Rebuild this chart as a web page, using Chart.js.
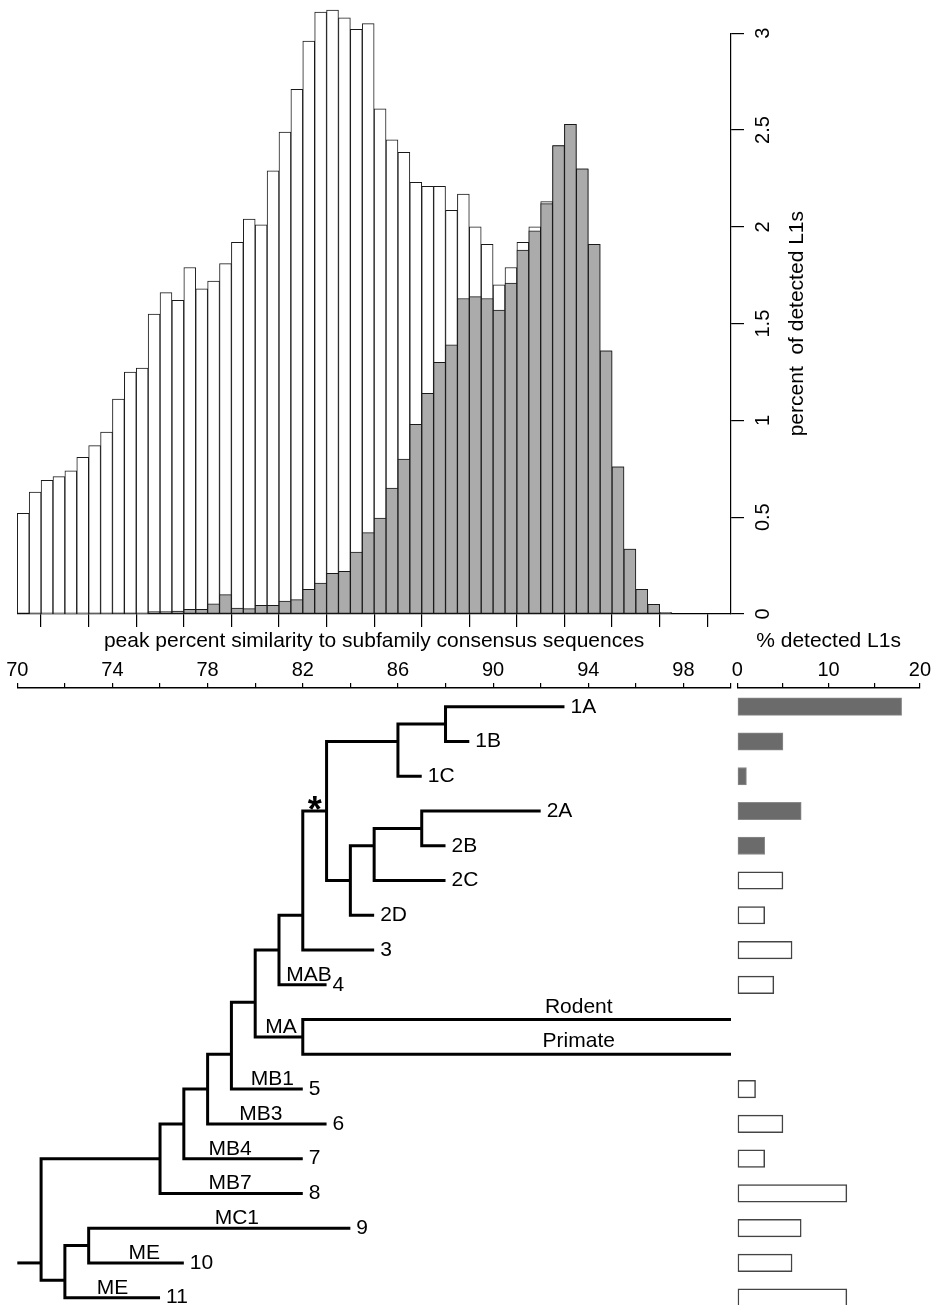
<!DOCTYPE html>
<html>
<head>
<meta charset="utf-8">
<script src="https://cdn.jsdelivr.net/npm/chart.js@4.4.1/dist/chart.umd.min.js"></script>
<style>
  html, body { margin: 0; padding: 0; background: #fff; width: 932px; height: 1305px; overflow: hidden; }
  canvas { position: absolute; }
  #histo { left: 0; top: 0; }
  #tree { left: 0; top: 620px; }
  #bars { left: 725px; top: 620px; }
</style>
</head>
<body>
<canvas id="histo" width="932" height="640"></canvas>
<canvas id="tree" width="735" height="685"></canvas>
<canvas id="bars" width="207" height="685"></canvas>
<script>
// histogram: 0.5% bins of peak similarity, percent of detected L1s
const binCenters = [
  70.25, 70.75, 71.25, 71.75, 72.25, 72.75, 73.25, 73.75, 74.25, 74.75,
  75.25, 75.75, 76.25, 76.75, 77.25, 77.75, 78.25, 78.75, 79.25, 79.75,
  80.25, 80.75, 81.25, 81.75, 82.25, 82.75, 83.25, 83.75, 84.25, 84.75,
  85.25, 85.75, 86.25, 86.75, 87.25, 87.75, 88.25, 88.75, 89.25, 89.75,
  90.25, 90.75, 91.25, 91.75, 92.25, 92.75, 93.25, 93.75, 94.25, 94.75,
  95.25, 95.75, 96.25, 96.75, 97.25, 97.75, 98.25, 98.75, 99.25, 99.75
];
const allPct = [
  0.52, 0.63, 0.69, 0.71, 0.74, 0.81, 0.87, 0.94, 1.11, 1.25,
  1.27, 1.55, 1.66, 1.62, 1.79, 1.68, 1.72, 1.81, 1.92, 2.04,
  2.01, 2.29, 2.49, 2.71, 2.96, 3.11, 3.12, 3.08, 3.02, 3.05,
  2.61, 2.45, 2.385, 2.23, 2.21, 2.21, 2.085, 2.17, 2.0, 1.91,
  1.70, 1.79, 1.92, 2.0, 2.13, 2.42, 2.53, 2.30, 1.91, 1.36,
  0.76, 0.336, 0.128, 0.05, 0.007, 0, 0, 0, 0, 0
];
const activePct = [
  0, 0.003, 0.001, 0.001, 0.001, 0.001, 0.002, 0.002, 0.005, 0.005,
  0.003, 0.012, 0.012, 0.015, 0.024, 0.024, 0.052, 0.10, 0.031, 0.028,
  0.045, 0.045, 0.067, 0.074, 0.128, 0.16, 0.21, 0.22, 0.32, 0.42,
  0.495, 0.65, 0.80, 0.98, 1.14, 1.30, 1.39, 1.63, 1.64, 1.63,
  1.57, 1.71, 1.88, 1.98, 2.12, 2.42, 2.53, 2.30, 1.91, 1.36,
  0.76, 0.336, 0.128, 0.05, 0.007, 0, 0, 0, 0, 0
];

// tree tips, one per row, top to bottom
const tipLabels = ['1A','1B','1C','2A','2B','2C','2D','3','4','Rodent','Primate','5','6','7','8','9','10','11'];
const tipEnd    = [93, 89, 87, 92, 88, 88, 85, 85, 83, 100, 100, 82, 83, 82, 82, 84, 77, 76];
const detectedPct = [18, 5, 1, 7, 3, 5, 3, 6, 4, null, null, 2, 5, 3, 12, 7, 6, 12];
const activeTips = ['1A','1B','1C','2A','2B'];

// internal nodes
const nodeName = ['n88','n86','n87','n85','n84','n83','n82','n81','nMA','n80','n79','n78','n77','n76','n73','n72','root'];
const nodeX    = [88, 86, 87, 85, 84, 83, 82, 81, 82, 80, 79, 78, 77, 76, 73, 72, 71];
const nodeRow  = [0.5, 1, 3.5, 4, 5, 3, 6, 7, 9.5, 8.5, 10, 11, 12, 13, 15.5, 16.5, 16];
const nodeKids = [
  ['1A','1B'], ['n88','1C'], ['2A','2B'], ['n87','2C'], ['n85','2D'], ['n86','n84'],
  ['n83','3'], ['n82','4'], ['Rodent','Primate'], ['n81','nMA'], ['n80','5'], ['n79','6'],
  ['n78','7'], ['n77','8'], ['9','10'], ['n73','11'], ['n76','n72']
];
const rootStart = 70;

// subfamily names written over branches
const cladeNames = ['MAB','MA','MB1','MB3','MB4','MB7','MC1','ME','ME'];
const cladeX     = [82.26, 81.08, 80.72, 80.24, 78.94, 78.94, 79.23, 75.34, 74.0];
const cladeRow   = [8, 9.5, 11, 12, 13, 14, 15, 16, 17];
const longTipLabelX = 93.6;
const starX = 82.5, starRow = 3;

const FONT = '"Liberation Sans", Arial, Helvetica, sans-serif';
Chart.defaults.font.family = FONT;
Chart.defaults.color = '#000';

const rowMin = -0.538, rowMax = 17.21;

const histoLabels = {
  id: 'histoLabels',
  afterDraw(chart) {
    const ctx = chart.ctx;
    const y = chart.scales.y;
    ctx.save();
    ctx.fillStyle = '#000';
    ctx.textAlign = 'center';
    ctx.textBaseline = 'alphabetic';
    ctx.font = '20px ' + FONT;
    y.ticks.forEach((t, i) => {
      ctx.save();
      ctx.translate(y.left + 37.5, y.getPixelForTick(i));
      ctx.rotate(-Math.PI / 2);
      ctx.fillText(String(t.value), 0, 0);
      ctx.restore();
    });
    ctx.font = '21px ' + FONT;
    ctx.translate(y.left + 72, (y.top + y.bottom) / 2);
    ctx.rotate(-Math.PI / 2);
    ctx.fillText('percent  of detected L1s', 0, 0);
    ctx.restore();
  }
};

new Chart(document.getElementById('histo'), {
  type: 'bar',
  data: {
    datasets: [
      {
        label: 'active',
        data: binCenters.map((c, i) => ({ x: c, y: activePct[i] })),
        backgroundColor: '#ababab',
        borderColor: '#1a1a1a',
        borderWidth: 1,
        borderSkipped: false,
        order: 0,
        clip: false
      },
      {
        label: 'all',
        data: binCenters.map((c, i) => ({ x: c, y: allPct[i] })),
        backgroundColor: '#ffffff',
        borderColor: '#1a1a1a',
        borderWidth: 1,
        borderSkipped: false,
        order: 1,
        clip: false
      }
    ]
  },
  options: {
    responsive: false,
    animation: false,
    layout: { padding: { left: 17.3, top: 33.3, right: 0, bottom: 0 } },
    plugins: { legend: { display: false }, tooltip: { enabled: false } },
    datasets: { bar: { barPercentage: 1, categoryPercentage: 1, grouped: false } },
    scales: {
      x: {
        type: 'linear', min: 70, max: 100, offset: false,
        ticks: { display: false, stepSize: 2 },
        grid: { drawOnChartArea: false, drawTicks: true, tickLength: 13, color: '#000', lineWidth: 1.2 },
        border: { display: true, color: '#000', width: 1.2 },
        afterFit(s) { s.height = 26; }
      },
      y: {
        type: 'linear', position: 'right', min: 0, max: 3,
        ticks: { display: false, stepSize: 0.5 },
        grid: { drawOnChartArea: false, drawTicks: true, tickLength: 13, color: '#000', lineWidth: 1.2 },
        border: { display: true, color: '#000', width: 1.2 },
        afterFit(s) { s.width = 201; }
      }
    }
  },
  plugins: [histoLabels]
});

// tree geometry from the node lists
function pointOf(name) {
  const t = tipLabels.indexOf(name);
  if (t >= 0) return { x: tipEnd[t], y: t };
  const n = nodeName.indexOf(name);
  return { x: nodeX[n], y: nodeRow[n] };
}
const treePaths = nodeName.map((name, i) => {
  const a = pointOf(nodeKids[i][0]);
  const b = pointOf(nodeKids[i][1]);
  return [a, { x: nodeX[i], y: a.y }, { x: nodeX[i], y: b.y }, b];
});
const rootIdx = nodeName.indexOf('root');
treePaths.push([{ x: rootStart, y: nodeRow[rootIdx] }, { x: nodeX[rootIdx], y: nodeRow[rootIdx] }]);

const treeLabels = {
  id: 'treeLabels',
  afterDatasetsDraw(chart) {
    const ctx = chart.ctx;
    const { x, y } = chart.scales;
    ctx.save();
    ctx.fillStyle = '#000';
    ctx.font = '21px ' + FONT;
    tipLabels.forEach((lab, i) => {
      const py = y.getPixelForValue(i);
      if (tipEnd[i] >= 100) {
        ctx.textAlign = 'center';
        ctx.textBaseline = 'alphabetic';
        ctx.fillText(lab, x.getPixelForValue(longTipLabelX), py - 7);
      } else {
        ctx.textAlign = 'left';
        ctx.textBaseline = 'middle';
        ctx.fillText(lab, x.getPixelForValue(tipEnd[i]) + 6, py);
      }
    });
    ctx.textAlign = 'center';
    ctx.textBaseline = 'alphabetic';
    cladeNames.forEach((lab, i) => {
      ctx.fillText(lab, x.getPixelForValue(cladeX[i]), y.getPixelForValue(cladeRow[i]) - 4);
    });
    ctx.font = 'bold 36px ' + FONT;
    ctx.fillText('*', x.getPixelForValue(starX), y.getPixelForValue(starRow) + 11);
    ctx.restore();
  }
};

new Chart(document.getElementById('tree'), {
  type: 'scatter',
  data: {
    datasets: treePaths.map(p => ({
      data: p,
      showLine: true,
      borderColor: '#000',
      borderWidth: 3,
      pointRadius: 0,
      borderJoinStyle: 'miter',
      borderCapStyle: 'butt',
      tension: 0,
      clip: false
    }))
  },
  options: {
    responsive: false,
    animation: false,
    layout: { padding: { left: 17.3, right: 4, top: 0, bottom: 0 } },
    plugins: { legend: { display: false }, tooltip: { enabled: false } },
    scales: {
      x: {
        type: 'linear', position: 'top', min: 70, max: 100,
        ticks: {
          stepSize: 2, padding: 1, autoSkip: false, maxRotation: 0, color: '#000',
          font: { size: 20 },
          callback: v => ((v - 70) % 4 === 0 && v < 100) ? String(v) : ''
        },
        grid: { drawOnChartArea: false, drawTicks: true, tickLength: 5, color: '#000', lineWidth: 1.2 },
        border: { display: true, color: '#000', width: 1.5 },
        title: {
          display: true, text: 'peak percent similarity to subfamily consensus sequences',
          color: '#000', font: { size: 21 }, padding: { top: 9, bottom: 0 }
        },
        afterFit(s) { s.height = 68; }
      },
      y: { type: 'linear', display: false, offset: false, reverse: true, min: rowMin, max: rowMax }
    }
  },
  plugins: [treeLabels]
});

// bars of % detected L1s per tip
const activeBars = [], otherBars = [];
tipLabels.forEach((lab, i) => {
  if (detectedPct[i] === null) return;
  (activeTips.includes(lab) ? activeBars : otherBars).push({ x: detectedPct[i], y: i });
});

new Chart(document.getElementById('bars'), {
  type: 'bar',
  data: {
    datasets: [
      { data: activeBars, backgroundColor: '#6b6b6b', borderColor: '#8a8a8a', borderWidth: 1 },
      { data: otherBars, backgroundColor: '#ffffff', borderColor: '#444', borderWidth: 1.5 }
    ]
  },
  options: {
    indexAxis: 'y',
    responsive: false,
    animation: false,
    layout: { padding: { left: 12.3, right: 12, top: 0, bottom: 0 } },
    plugins: { legend: { display: false }, tooltip: { enabled: false } },
    datasets: { bar: { grouped: false, barThickness: 17.5, borderSkipped: false } },
    scales: {
      x: {
        type: 'linear', position: 'top', min: 0, max: 20,
        ticks: {
          stepSize: 5, padding: 1, autoSkip: false, maxRotation: 0, color: '#000',
          font: { size: 20 },
          callback: v => (v % 10 === 0) ? String(v) : ''
        },
        grid: { drawOnChartArea: false, drawTicks: true, tickLength: 5, color: '#000', lineWidth: 1.2 },
        border: { display: true, color: '#000', width: 1.5 },
        title: {
          display: true, text: '% detected L1s',
          color: '#000', font: { size: 21 }, padding: { top: 9, bottom: 0 }
        },
        afterFit(s) { s.height = 68; }
      },
      y: {
        type: 'linear', display: false, offset: false, grid: { offset: false },
        reverse: true, min: rowMin, max: rowMax
      }
    }
  }
});
</script>
</body>
</html>
